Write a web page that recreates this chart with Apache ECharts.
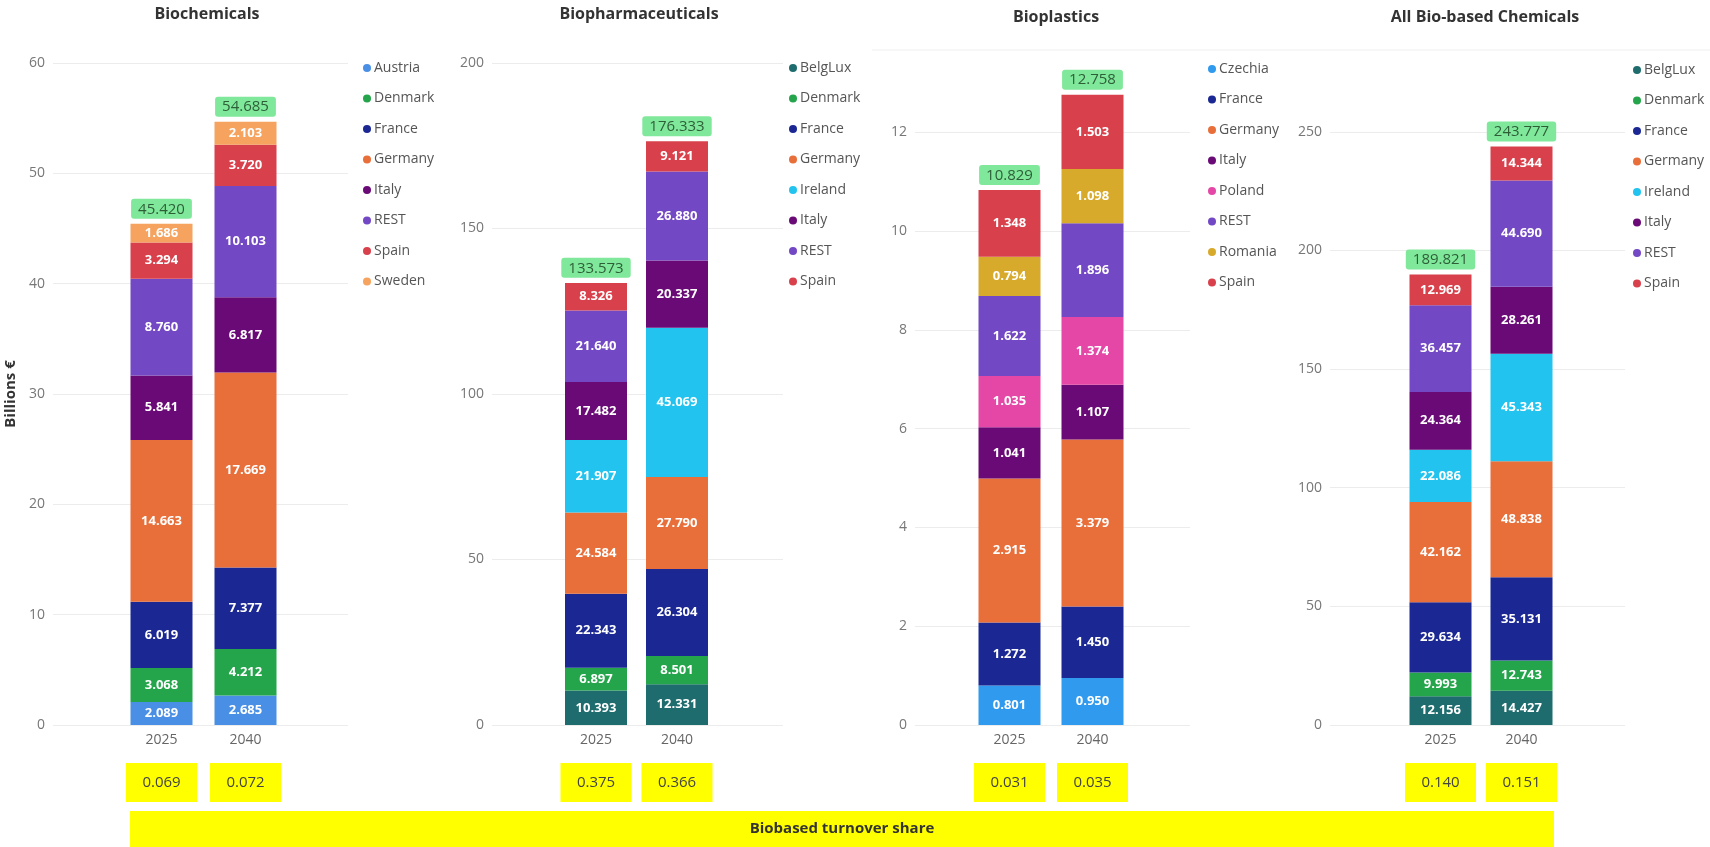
<!DOCTYPE html>
<html>
<head>
<meta charset="utf-8">
<title>Bio-based chemicals turnover by country</title>
<script src="https://cdn.jsdelivr.net/npm/echarts@6.0.0/dist/echarts.min.js"></script>
<style>
  html, body { margin: 0; padding: 0; background: #ffffff; }
  #chart { width: 1710px; height: 847px; }
</style>
</head>
<body>
<div id="chart"></div>
<script>
// ---- Data (billions €) ----
const years = ['2025', '2040'];

const biochemicalsCountries = ['Austria', 'Denmark', 'France', 'Germany', 'Italy', 'REST', 'Spain', 'Sweden'];
const biochemicals2025 = [2.089, 3.068, 6.019, 14.663, 5.841, 8.760, 3.294, 1.686];
const biochemicals2040 = [2.685, 4.212, 7.377, 17.669, 6.817, 10.103, 3.720, 2.103];
const biochemicalsTotals = [45.420, 54.685];
const biochemicalsShare = ['0.069', '0.072'];
const biochemicalsTicks = [0, 60, 10];

const biopharmaCountries = ['BelgLux', 'Denmark', 'France', 'Germany', 'Ireland', 'Italy', 'REST', 'Spain'];
const biopharma2025 = [10.393, 6.897, 22.343, 24.584, 21.907, 17.482, 21.640, 8.326];
const biopharma2040 = [12.331, 8.501, 26.304, 27.790, 45.069, 20.337, 26.880, 9.121];
const biopharmaTotals = [133.573, 176.333];
const biopharmaShare = ['0.375', '0.366'];
const biopharmaTicks = [0, 200, 50];

const bioplasticsCountries = ['Czechia', 'France', 'Germany', 'Italy', 'Poland', 'REST', 'Romania', 'Spain'];
const bioplastics2025 = [0.801, 1.272, 2.915, 1.041, 1.035, 1.622, 0.794, 1.348];
const bioplastics2040 = [0.950, 1.450, 3.379, 1.107, 1.374, 1.896, 1.098, 1.503];
const bioplasticsTotals = [10.829, 12.758];
const bioplasticsShare = ['0.031', '0.035'];
const bioplasticsTicks = [0, 13.4, 2];

const allBioCountries = ['BelgLux', 'Denmark', 'France', 'Germany', 'Ireland', 'Italy', 'REST', 'Spain'];
const allBio2025 = [12.156, 9.993, 29.634, 42.162, 22.086, 24.364, 36.457, 12.969];
const allBio2040 = [14.427, 12.743, 35.131, 48.838, 45.343, 28.261, 44.690, 14.344];
const allBioTotals = [189.821, 243.777];
const allBioShare = ['0.140', '0.151'];
const allBioTicks = [0, 279, 50];

// ---- Styling ----
const countryColors = {
  Austria: '#4A8FE6', Czechia: '#2F9AEE', Denmark: '#25A54B', France: '#1B2894',
  Germany: '#E86F3A', Italy: '#6A0A77', REST: '#7348C4', Spain: '#D8404C',
  Sweden: '#F5A35E', BelgLux: '#1E6C6E', Ireland: '#22C3EE', Poland: '#E447A6',
  Romania: '#D7AA2C'
};
const FONT = '"Open Sans", "Noto Sans", sans-serif';

const panels = [
  { title: 'Biochemicals', countries: biochemicalsCountries, v2025: biochemicals2025, v2040: biochemicals2040,
    totals: biochemicalsTotals, share: biochemicalsShare, ticks: biochemicalsTicks,
    plotLeft: 53, plotWidth: 295, barLeft: 119.5, barSpan: 168, legendLeft: 358, legendTop: 55, titleX: 207, titleY: 14 },
  { title: 'Biopharmaceuticals', countries: biopharmaCountries, v2025: biopharma2025, v2040: biopharma2040,
    totals: biopharmaTotals, share: biopharmaShare, ticks: biopharmaTicks,
    plotLeft: 492, plotWidth: 291, barLeft: 555.5, barSpan: 162, legendLeft: 784, legendTop: 55, titleX: 639, titleY: 14 },
  { title: 'Bioplastics', countries: bioplasticsCountries, v2025: bioplastics2025, v2040: bioplastics2040,
    totals: bioplasticsTotals, share: bioplasticsShare, ticks: bioplasticsTicks,
    plotLeft: 915, plotWidth: 275, barLeft: 968, barSpan: 166, legendLeft: 1203, legendTop: 56, titleX: 1056, titleY: 17 },
  { title: 'All Bio-based Chemicals', countries: allBioCountries, v2025: allBio2025, v2040: allBio2040,
    totals: allBioTotals, share: allBioShare, ticks: allBioTicks,
    plotLeft: 1330, plotWidth: 295, barLeft: 1400, barSpan: 162, legendLeft: 1628, legendTop: 57, titleX: 1485, titleY: 17 }
];

const PLOT_TOP = 63;
const PLOT_HEIGHT = 662;
const BAR_WIDTH = 62;

const grid = [], xAxis = [], yAxis = [], series = [], legend = [], graphic = [];

panels.forEach((p, i) => {
  const gPlot = 2 * i, gBars = 2 * i + 1;
  const [minV, maxV, step] = p.ticks;

  // gridlines + value labels span the whole plot area
  grid.push({ left: p.plotLeft, top: PLOT_TOP, width: p.plotWidth, height: PLOT_HEIGHT, outerBoundsMode: 'none' });
  // the two stacked columns sit in the middle of the plot area
  grid.push({ left: p.barLeft, top: PLOT_TOP, width: p.barSpan, height: PLOT_HEIGHT, outerBoundsMode: 'none' });

  xAxis.push({ gridIndex: gPlot, type: 'value', min: 0, max: 1, show: false });
  yAxis.push({
    gridIndex: gPlot, type: 'value', min: minV, max: maxV, interval: step,
    axisLine: { show: false }, axisTick: { show: false },
    axisLabel: {
      color: '#777', fontSize: 14, fontFamily: FONT, margin: 8, showMaxLabel: maxV % step === 0,
      formatter: v => (v % step === 0 ? String(v) : '')
    },
    splitLine: { show: true, showMaxLine: maxV % step === 0, lineStyle: { color: '#ececec', width: 1 } },
    name: i === 0 ? 'Billions €' : '',
    nameLocation: 'middle', nameGap: 35,
    nameTextStyle: { color: '#333', fontSize: 15, fontWeight: 'bold', fontFamily: FONT }
  });

  xAxis.push({
    gridIndex: gBars, type: 'category', data: years,
    axisLine: { show: false }, axisTick: { show: false },
    axisLabel: {
      interval: 0, margin: 4,
      formatter: (v, idx) => `{y|${v}}\n{g| }\n{s|${p.share[idx]}}`,
      rich: {
        y: { color: '#666', fontSize: 14, fontFamily: FONT, lineHeight: 22 },
        g: { fontSize: 2, lineHeight: 12 },
        s: { color: '#444', fontSize: 15, fontFamily: FONT, backgroundColor: '#FFFF00',
             width: 71, height: 39, lineHeight: 39, align: 'center' }
      }
    }
  });
  yAxis.push({ gridIndex: gBars, type: 'value', min: minV, max: maxV, show: false, splitLine: { show: false } });

  p.countries.forEach((c, k) => {
    series.push({
      type: 'bar', name: c, stack: 'stack' + i,
      xAxisIndex: gBars, yAxisIndex: gBars,
      barWidth: BAR_WIDTH, barGap: '-100%',
      data: [p.v2025[k], p.v2040[k]],
      itemStyle: { color: countryColors[c] },
      label: {
        show: true, position: 'inside', color: '#ffffff', fontSize: 13, fontWeight: 'bold',
        fontFamily: FONT, formatter: d => d.value.toFixed(3)
      }
    });
  });

  // stack totals, shown as a green tag above each column
  series.push({
    type: 'bar', name: 'Total',
    xAxisIndex: gBars, yAxisIndex: gBars,
    barWidth: BAR_WIDTH, barGap: '-100%',
    data: p.totals,
    itemStyle: { color: 'rgba(0,0,0,0)' },
    emphasis: { disabled: true },
    label: {
      show: true, position: 'top', distance: 5,
      formatter: d => d.value.toFixed(3),
      color: '#2D5E38', fontSize: 15, fontFamily: FONT,
      backgroundColor: '#80E89A', borderRadius: 3, padding: [3, 7, 2, 7]
    },
    z: 3
  });

  legend.push({
    data: p.countries, orient: 'vertical', left: p.legendLeft, top: p.legendTop,
    icon: 'circle', itemWidth: 8, itemHeight: 16, itemGap: 14.5,
    textStyle: { color: '#555', fontSize: 14, fontFamily: FONT, lineHeight: 16, padding: [0, 0, 0, -2] }
  });

  graphic.push({
    type: 'text', x: p.titleX, y: p.titleY,
    style: { text: p.title, align: 'center', verticalAlign: 'middle',
             fill: '#333', font: `bold 16px ${FONT}` }
  });
});

// divider above the right-hand panels
graphic.push({ type: 'line', shape: { x1: 872, y1: 50, x2: 1710, y2: 50 }, style: { stroke: '#efefef', lineWidth: 1 } });

// "Biobased turnover share" banner under the share boxes
graphic.push({
  type: 'group', children: [
    { type: 'rect', shape: { x: 130, y: 811, width: 1424, height: 36 }, style: { fill: '#FFFF00' } },
    { type: 'text', x: 842, y: 829,
      style: { text: 'Biobased turnover share', align: 'center', verticalAlign: 'middle',
               fill: '#333', font: `bold 15px ${FONT}` } }
  ]
});

const chart = echarts.init(document.getElementById('chart'), null, { renderer: 'canvas' });
chart.setOption({
  animation: false,
  backgroundColor: '#ffffff',
  textStyle: { fontFamily: FONT },
  tooltip: { show: false },
  grid, xAxis, yAxis, series, legend, graphic
});
</script>
</body>
</html>
